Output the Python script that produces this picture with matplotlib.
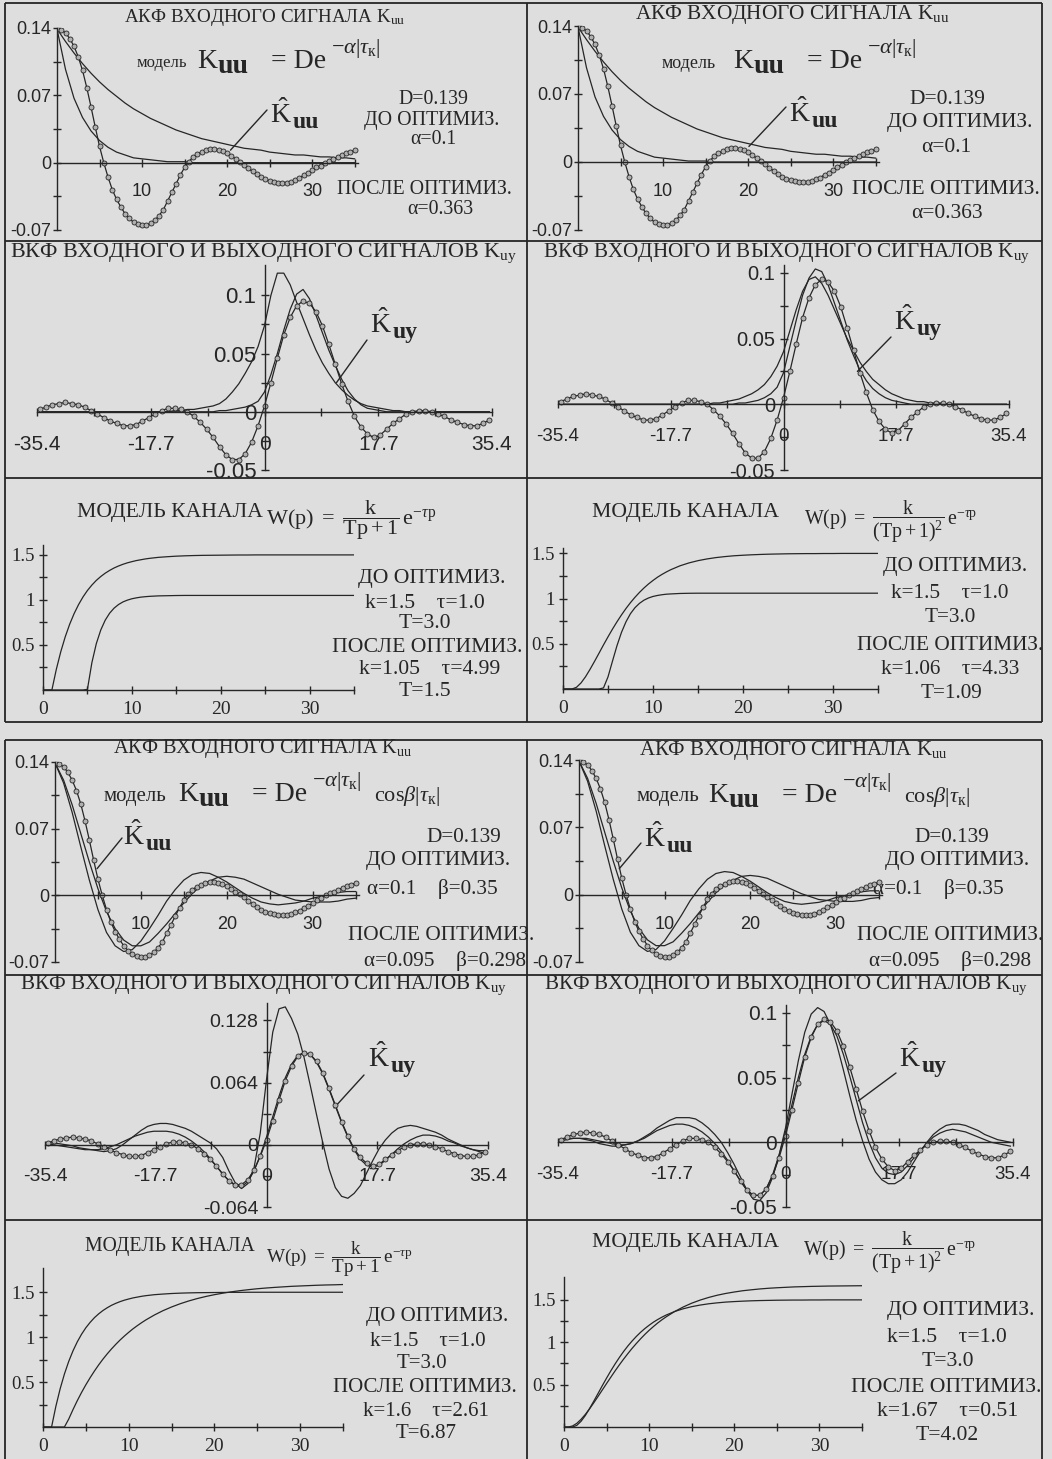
import numpy as np
import matplotlib
matplotlib.use("Agg")
import matplotlib.pyplot as plt
from matplotlib.patches import ConnectionPatch

W, H = 1052, 1459
BG = "#dedede"
INK = "#262626"
SERIF = ["Liberation Serif", "DejaVu Serif"]
SANS = ["Liberation Sans", "DejaVu Sans"]

plt.rcParams.update({
    "font.family": SERIF,
    "mathtext.fontset": "custom",
    "mathtext.rm": "Liberation Serif",
    "mathtext.it": "Liberation Serif:italic",
    "mathtext.bf": "Liberation Serif:bold",
    "mathtext.sf": "Liberation Sans",
    "axes.unicode_minus": False,
    "text.color": INK,
})

# ---------------- data ----------------
# lag grids
tau_acf_emp = np.arange(0, 35.01, 0.5)
tau_acf = np.arange(0, 36)
tau_ccf = np.arange(-35, 36)
t_step = np.concatenate([np.arange(0, 12.01, 0.5), np.arange(13, 36)])

# empirical ACF of the input signal (dotted curve)
acf_emp = [0.139, 0.138, 0.135, 0.129, 0.121, 0.110, 0.096, 0.078, 0.058, 0.037,
           0.017, 0.000, -0.015, -0.028, -0.038, -0.046, -0.053, -0.058, -0.062, -0.064,
           -0.065, -0.065, -0.063, -0.060, -0.055, -0.049, -0.040, -0.031, -0.022, -0.013,
           -0.005, 0.001, 0.006, 0.009, 0.011, 0.013, 0.014, 0.014, 0.013, 0.012,
           0.010, 0.007, 0.004, 0.001, -0.002, -0.006, -0.009, -0.012, -0.015, -0.017,
           -0.019, -0.020, -0.021, -0.021, -0.021, -0.020, -0.018, -0.016, -0.013, -0.011,
           -0.008, -0.005, -0.003, 0.000, 0.002, 0.004, 0.006, 0.008, 0.010, 0.011,
           0.013]
# exponential ACF model: before (alpha=0.1) / after (alpha=0.363)
acf_exp_before = [0.139, 0.126, 0.114, 0.103, 0.093, 0.084, 0.076, 0.069, 0.062, 0.056,
                  0.051, 0.046, 0.042, 0.038, 0.034, 0.031, 0.028, 0.025, 0.023, 0.021,
                  0.019, 0.017, 0.015, 0.014, 0.013, 0.011, 0.010, 0.009, 0.008, 0.008,
                  0.007, 0.006, 0.006, 0.005, 0.005, 0.004]
acf_exp_after = [0.139, 0.097, 0.067, 0.047, 0.033, 0.023, 0.016, 0.011, 0.008, 0.005,
                 0.004, 0.003, 0.002, 0.001, 0.001, 0.001, 0.000, 0.000, 0.000, 0.000,
                 0.000, 0.000, 0.000, 0.000, 0.000, 0.000, 0.000, 0.000, 0.000, 0.000,
                 0.000, 0.000, 0.000, 0.000, 0.000, 0.000]
# exp-cos ACF model: before (0.1, 0.35) / after (0.095, 0.298)
acf_cos_before = [0.139, 0.118, 0.087, 0.051, 0.016, -0.015, -0.039, -0.053, -0.059, -0.057,
                  -0.048, -0.035, -0.021, -0.006, 0.006, 0.016, 0.022, 0.024, 0.023, 0.019,
                  0.014, 0.008, 0.002, -0.003, -0.007, -0.009, -0.010, -0.009, -0.008, -0.006,
                  -0.003, -0.001, 0.001, 0.003, 0.004, 0.004]
acf_cos_after = [0.139, 0.121, 0.095, 0.065, 0.035, 0.007, -0.017, -0.035, -0.047, -0.053,
                 -0.053, -0.049, -0.040, -0.030, -0.019, -0.008, 0.002, 0.010, 0.015, 0.019,
                 0.020, 0.019, 0.017, 0.013, 0.009, 0.005, 0.001, -0.002, -0.005, -0.006,
                 -0.007, -0.007, -0.007, -0.006, -0.004, -0.003]

# empirical CCF of input and output (dotted curve)
ccf_emp = [0.002, 0.004, 0.006, 0.007, 0.008, 0.007, 0.006, 0.004, 0.001, -0.002,
           -0.005, -0.008, -0.010, -0.012, -0.012, -0.011, -0.008, -0.005, -0.002, 0.001,
           0.003, 0.003, 0.002, 0.000, -0.004, -0.009, -0.015, -0.022, -0.030, -0.037,
           -0.041, -0.041, -0.036, -0.026, -0.012,
           0.005, 0.025, 0.046, 0.066, 0.081, 0.091, 0.095, 0.093, 0.086, 0.074,
           0.058, 0.041, 0.024, 0.009, -0.004, -0.013, -0.019, -0.022, -0.020, -0.015,
           -0.010, -0.006, -0.002, 0.000, 0.001, 0.001, 0.000, -0.002, -0.004, -0.007,
           -0.009, -0.011, -0.012, -0.012, -0.010, -0.007]
# model CCF, first-order channel + exponential ACF (upper left)
ccf_exp1_a = [0, 0, 0, 0, 0, 0, 0, 0, 0, 0, 0, 0, 0, 0, 0, 0, 0, 0, 0, 0, 0,
              0.001, 0.001, 0.002, 0.002, 0.003, 0.004, 0.005, 0.007, 0.011, 0.017,
              0.024, 0.033, 0.043, 0.056,
              0.074, 0.100, 0.119, 0.119, 0.109, 0.094, 0.080, 0.066, 0.053, 0.042,
              0.033, 0.025, 0.019, 0.014, 0.010, 0.007, 0.005, 0.004, 0.003, 0.002,
              0.001, 0.001,
              0, 0, 0, 0, 0, 0, 0, 0, 0, 0, 0, 0, 0, 0]
ccf_exp1_b = [0, 0, 0, 0, 0, 0, 0, 0, 0, 0, 0, 0, 0, 0, 0, 0, 0, 0, 0, 0,
              0, 0, 0, 0, 0, 0, 0, 0,
              0.001, 0.001, 0.002, 0.003, 0.004, 0.006, 0.009,
              0.017, 0.032, 0.050, 0.070, 0.088, 0.101, 0.105, 0.097, 0.083, 0.068,
              0.053, 0.040, 0.028, 0.018, 0.011, 0.006, 0.003, 0.002, 0.001,
              0, 0, 0, 0, 0, 0, 0, 0, 0, 0, 0, 0, 0, 0, 0, 0, 0]
# model CCF, second-order channel + exponential ACF (upper right)
ccf_exp2_a = [0, 0, 0, 0, 0, 0, 0, 0, 0, 0, 0, 0, 0, 0, 0, 0, 0, 0, 0, 0,
              0, 0, 0, 0,
              0.001, 0.001, 0.002, 0.003, 0.004, 0.006, 0.008, 0.011, 0.015, 0.021, 0.029,
              0.040, 0.056, 0.072, 0.086, 0.095, 0.097, 0.092, 0.083, 0.072, 0.061,
              0.050, 0.041, 0.032, 0.025, 0.019, 0.015, 0.011, 0.008, 0.006, 0.004,
              0.003, 0.002, 0.002, 0.001, 0.001,
              0, 0, 0, 0, 0, 0, 0, 0, 0, 0, 0]
ccf_exp2_b = [0, 0, 0, 0, 0, 0, 0, 0, 0, 0, 0, 0, 0, 0, 0, 0, 0, 0, 0, 0,
              0, 0, 0, 0, 0, 0, 0, 0,
              0.001, 0.001, 0.002, 0.003, 0.005, 0.008, 0.013,
              0.024, 0.044, 0.064, 0.083, 0.096, 0.103, 0.101, 0.091, 0.077, 0.063,
              0.049, 0.037, 0.026, 0.018, 0.012, 0.008, 0.005, 0.003, 0.002, 0.001,
              0, 0, 0, 0, 0, 0, 0, 0, 0, 0, 0, 0, 0, 0, 0, 0]
# model CCF, first-order channel + exp-cos ACF (lower left)
ccf_cos1_a = [0.002, 0.002, 0.001, 0.000, -0.001, -0.003, -0.004, -0.005, -0.006, -0.007,
              -0.006, -0.004, 0.000, 0.005, 0.010, 0.015, 0.019, 0.021, 0.022, 0.022,
              0.021, 0.019, 0.017, 0.014, 0.010, 0.006, 0.002, -0.004, -0.013, -0.027,
              -0.039, -0.045, -0.040, -0.024, 0.012,
              0.067, 0.116, 0.140, 0.142, 0.130, 0.114, 0.090, 0.061, 0.031, 0.002,
              -0.025, -0.044, -0.053, -0.055, -0.050, -0.042, -0.029, -0.016, -0.004, 0.005,
              0.012, 0.017, 0.019, 0.020, 0.019, 0.017, 0.015, 0.013, 0.010, 0.006,
              0.003, 0.000, -0.003, -0.005, -0.007, -0.009]
ccf_cos1_b = [0.001, 0.000, -0.001, -0.002, -0.003, -0.004, -0.005, -0.005, -0.005, -0.004,
              -0.002, 0.000, 0.003, 0.006, 0.009, 0.011, 0.013, 0.014, 0.014, 0.014,
              0.013, 0.011, 0.008, 0.004, -0.001, -0.007, -0.014, -0.022, -0.030, -0.037,
              -0.042, -0.043, -0.038, -0.027, -0.011,
              0.008, 0.029, 0.050, 0.069, 0.083, 0.092, 0.095, 0.093, 0.085, 0.073,
              0.057, 0.040, 0.023, 0.008, -0.005, -0.015, -0.021, -0.023, -0.021, -0.016,
              -0.010, -0.004, 0.001, 0.005, 0.008, 0.010, 0.010, 0.009, 0.007, 0.004,
              0.002, -0.001, -0.003, -0.005, -0.006, -0.006]
# model CCF, second-order channel + exp-cos ACF (lower right)
ccf_cos2_a = [0.001, 0.002, 0.003, 0.003, 0.003, 0.002, 0.001, 0.000, -0.001, -0.002,
              -0.002, -0.001, 0.001, 0.004, 0.007, 0.011, 0.014, 0.017, 0.019, 0.019,
              0.019, 0.018, 0.015, 0.011, 0.006, 0.000, -0.008, -0.017, -0.027, -0.037,
              -0.044, -0.045, -0.039, -0.027, -0.010,
              0.011, 0.037, 0.063, 0.085, 0.099, 0.104, 0.101, 0.091, 0.075, 0.056,
              0.036, 0.017, 0.001, -0.013, -0.023, -0.029, -0.032, -0.032, -0.029, -0.023,
              -0.015, -0.007, 0.000, 0.006, 0.010, 0.013, 0.014, 0.014, 0.013, 0.011,
              0.009, 0.006, 0.004, 0.002, 0.001, 0.000]
ccf_cos2_b = [0.002, 0.003, 0.003, 0.003, 0.002, 0.001, -0.001, -0.002, -0.003, -0.003,
              -0.002, -0.001, 0.001, 0.003, 0.006, 0.009, 0.011, 0.013, 0.014, 0.014,
              0.013, 0.011, 0.008, 0.004, -0.001, -0.007, -0.014, -0.022, -0.030, -0.037,
              -0.041, -0.041, -0.036, -0.025, -0.010,
              0.008, 0.029, 0.050, 0.068, 0.082, 0.091, 0.094, 0.091, 0.082, 0.068,
              0.051, 0.033, 0.015, 0.000, -0.012, -0.020, -0.024, -0.025, -0.023, -0.018,
              -0.012, -0.006, -0.001, 0.004, 0.007, 0.009, 0.010, 0.009, 0.008, 0.006,
              0.004, 0.002, 0.000, -0.001, -0.002, -0.003]

# channel step responses (t = 0..12 step 0.5, then 13..35)
step1_before = [0, 0, 0, 0.230, 0.425, 0.590, 0.730, 0.848, 0.948, 1.033,
                1.105, 1.165, 1.217, 1.260, 1.297, 1.328, 1.355, 1.377, 1.396, 1.412,
                1.425, 1.437, 1.446, 1.455, 1.462,
                1.473, 1.480, 1.486, 1.490, 1.493, 1.495, 1.496, 1.497, 1.498, 1.499,
                1.499, 1.5, 1.5, 1.5, 1.5, 1.5, 1.5, 1.5, 1.5, 1.5,
                1.5, 1.5, 1.5]
step1_after_top = [0, 0, 0, 0, 0, 0, 0, 0, 0, 0,
                   0.007, 0.303, 0.515, 0.666, 0.775, 0.853, 0.909, 0.949, 0.978, 0.998,
                   1.013, 1.023, 1.031, 1.036, 1.040,
                   1.045, 1.047, 1.049, 1.05, 1.05, 1.05, 1.05, 1.05, 1.05, 1.05,
                   1.05, 1.05, 1.05, 1.05, 1.05, 1.05, 1.05, 1.05, 1.05, 1.05,
                   1.05, 1.05, 1.05]
step2_before = [0, 0, 0, 0.019, 0.067, 0.135, 0.217, 0.305, 0.396, 0.488,
                0.577, 0.663, 0.744, 0.820, 0.891, 0.956, 1.015, 1.069, 1.118, 1.162,
                1.201, 1.237, 1.268, 1.296, 1.321,
                1.363, 1.395, 1.420, 1.439, 1.454, 1.465, 1.474, 1.480, 1.485, 1.489,
                1.492, 1.494, 1.496, 1.497, 1.498, 1.498, 1.499, 1.499, 1.5, 1.5,
                1.5, 1.5, 1.5]
step2_after_top = [0, 0, 0, 0, 0, 0, 0, 0, 0, 0.012,
                   0.134, 0.309, 0.480, 0.627, 0.744, 0.834, 0.900, 0.948, 0.983, 1.007,
                   1.024, 1.035, 1.043, 1.049, 1.052,
                   1.057, 1.059, 1.06, 1.06, 1.06, 1.06, 1.06, 1.06, 1.06, 1.06,
                   1.06, 1.06, 1.06, 1.06, 1.06, 1.06, 1.06, 1.06, 1.06, 1.06,
                   1.06, 1.06, 1.06]
step1_after_bot = [0, 0, 0, 0, 0, 0, 0.088, 0.194, 0.293, 0.385,
                   0.470, 0.549, 0.623, 0.692, 0.756, 0.815, 0.870, 0.921, 0.969, 1.013,
                   1.054, 1.093, 1.128, 1.161, 1.192,
                   1.247, 1.295, 1.336, 1.372, 1.403, 1.430, 1.453, 1.473, 1.490, 1.505,
                   1.518, 1.529, 1.539, 1.547, 1.554, 1.560, 1.566, 1.570, 1.574, 1.578,
                   1.581, 1.583, 1.586]
step2_after_bot = [0, 0, 0.012, 0.043, 0.090, 0.148, 0.214, 0.286, 0.361, 0.437,
                   0.513, 0.588, 0.662, 0.733, 0.801, 0.866, 0.928, 0.986, 1.041, 1.093,
                   1.141, 1.185, 1.227, 1.265, 1.300,
                   1.363, 1.416, 1.461, 1.498, 1.529, 1.555, 1.576, 1.593, 1.608, 1.619,
                   1.629, 1.637, 1.643, 1.648, 1.653, 1.656, 1.659, 1.661, 1.663, 1.664,
                   1.665, 1.666, 1.667]

acf_xt = [5, 10, 15, 20, 25, 30, 35]
acf_xl = ["", "10", "", "20", "", "30", ""]
acf_yt = [-0.07, 0, 0.07, 0.14]
acf_yl = ["-0.07", "0", "0.07", "0.14"]
ccf_xt = [-35.4, -26.55, -17.7, -8.85, 0, 8.85, 17.7, 26.55, 35.4]
ccf_xl = ["-35.4", "", "-17.7", "", "0", "", "17.7", "", "35.4"]
ccf_yt = [-0.05, 0, 0.05, 0.1]
ccf_yl = ["-0.05", "0", "0.05", "0.1"]
ccf_yt2 = [-0.064, 0, 0.064, 0.128]
ccf_yl2 = ["-0.064", "0", "0.064", "0.128"]
st_xt = [0, 5, 10, 15, 20, 25, 30, 35]
st_xl = ["0", "", "10", "", "20", "", "30", ""]
st_yt = [0.5, 1.0, 1.5]
st_yl = ["0.5", "1", "1.5"]

# ---------------- figure ----------------
fig = plt.figure(figsize=(W / 100, H / 100), dpi=100, facecolor=BG)
bg = fig.add_axes([0, 0, 1, 1], zorder=0)
bg.set_xlim(0, W)
bg.set_ylim(H, 0)
bg.axis("off")


def seg(x0, y0, x1, y1):
    bg.plot([x0, x1], [y0, y1], color=INK, lw=1.3, solid_capstyle="butt")


for yy in (3, 241, 478, 722):
    seg(5, yy, 1042, yy)
for xx in (5, 527, 1042):
    seg(xx, 3, xx, 722)
for yy in (740, 975, 1220):
    seg(5, yy, 1042, yy)
for xx in (5, 527, 1042):
    seg(xx, 740, xx, 1459)


def txt(x, y, s, size, ha="center", va="center", family=None, weight="normal"):
    bg.text(x, y, s, fontsize=size, ha=ha, va=va, color=INK,
            family=family if family else SERIF, fontweight=weight)


def make_axes(box, xlim, ylim, yspine=0.0):
    xl, xr, yt, yb = box
    ax = fig.add_axes([xl / W, 1 - yb / H, (xr - xl) / W, (yb - yt) / H], zorder=2)
    ax.set_xlim(*xlim)
    ax.set_ylim(*ylim)
    ax.patch.set_visible(False)
    ax.spines["top"].set_visible(False)
    ax.spines["right"].set_visible(False)
    ax.spines["left"].set_position(("data", yspine))
    ax.spines["bottom"].set_position(("data", 0))
    for sp in ("left", "bottom"):
        ax.spines[sp].set_color(INK)
        ax.spines[sp].set_linewidth(1.0)
    return ax


def ticks(ax, xt, xl, yt, yl, yminor, fam, fsx, fsy, xpad, ypad):
    ax.set_xticks(xt)
    ax.set_xticklabels(xl, fontfamily=fam, fontsize=fsx)
    ax.set_yticks(yt)
    ax.set_yticklabels(yl, fontfamily=fam, fontsize=fsy)
    ax.set_yticks(yminor, minor=True)
    ax.tick_params(which="both", direction="inout", length=6, width=1.0,
                   color=INK, labelcolor=INK)
    ax.tick_params(axis="x", pad=xpad)
    ax.tick_params(axis="y", pad=ypad)


def line(ax, x, y):
    ax.plot(x, y, color=INK, lw=0.9)


def dotted(ax, x, y, ms=3.6):
    ax.plot(x, y, color=INK, lw=0.9, marker="o", ms=ms, mfc="#b0b0b0",
            mec=INK, mew=0.6)


def leader(ax, data_xy, px_xy):
    con = ConnectionPatch(xyA=px_xy, coordsA=bg.transData, xyB=data_xy,
                          coordsB=ax.transData, color=INK, lw=1.0)
    fig.add_artist(con)


def model_formula(x0, yb, cos=False):
    """K_uu = De^{-a|t|} [cos b|t|] composed from pieces (left edge x0, baseline yb)."""
    txt(x0, yb, "K", 20, ha="left", va="baseline")
    txt(x0 + 21, yb + 5, "uu", 20, ha="left", va="baseline", weight="bold")
    txt(x0 + 74, yb, "= De", 20, ha="left", va="baseline")
    txt(x0 + 134, yb - 15, r"$-\alpha|\tau_{\mathrm{к}}|$", 16, ha="left", va="baseline")
    if cos:
        txt(x0 + 196, yb, r"$\mathrm{cos}\beta|\tau_{\mathrm{к}}|$", 16,
            ha="left", va="baseline")


def hat_label(x0, yb, sub):
    txt(x0, yb, r"$\hat{\mathrm{K}}$", 20, ha="left", va="baseline")
    txt(x0 + 23, yb + 5, sub, 17, ha="left", va="baseline", weight="bold")


F_W1 = r"$\mathrm{W(p)}\ =\ \dfrac{\mathrm{k}}{\mathrm{Tp+1}}\,\mathrm{e}^{-\tau\mathrm{p}}$"
F_W2 = (r"$\mathrm{W(p)}\ =\ \dfrac{\mathrm{k}}{\mathrm{(Tp+1)}^{2}}"
        r"\,\mathrm{e}^{-\tau\mathrm{p}}$")
T_ACF = "АКФ ВХОДНОГО СИГНАЛА K$_{\\mathrm{uu}}$"
T_CCF = "ВКФ ВХОДНОГО И ВЫХОДНОГО СИГНАЛОВ K$_{\\mathrm{uy}}$"
T_CH = "МОДЕЛЬ КАНАЛА"


def acf_panel(box, m_before, m_after):
    ax = make_axes(box, (0, 35.4), (-0.07, 0.14))
    ticks(ax, acf_xt, acf_xl, acf_yt, acf_yl, [-0.035, 0.035, 0.105],
          SANS, 13, 13, 12, 1)
    line(ax, tau_acf, m_before)
    line(ax, tau_acf, m_after)
    dotted(ax, tau_acf_emp, acf_emp)
    return ax


def ccf_panel(box, ylim, yt, yl, yminor, ma, mb, fsx=14, fsy=15):
    ax = make_axes(box, (-35.4, 35.4), ylim)
    ticks(ax, ccf_xt, ccf_xl, yt, yl, yminor, SANS, fsx, fsy, 14, 3)
    line(ax, tau_ccf, ma)
    line(ax, tau_ccf, mb)
    dotted(ax, tau_ccf, ccf_emp, ms=3.6)
    return ax


def step_panel(box, ylim, c1, c2):
    ax = make_axes(box, (0, 35), ylim)
    ticks(ax, st_xt, st_xl, st_yt, st_yl, [0.25, 0.75, 1.25], SERIF, 14, 13.5, 5, 3)
    line(ax, t_step, c1)
    line(ax, t_step, c2)
    return ax


def notes(items, size):
    for s, x, y in items:
        txt(x, y, s, size)


# ---- row 1: exponential ACF ----
a1 = acf_panel((57, 358, 28, 230), acf_exp_before, acf_exp_after)
txt(265, 17, T_ACF, 13.7)
txt(162, 63, "модель", 12)
model_formula(197, 68)
hat_label(270, 123, "uu")
leader(a1, (20.4, 0.013), (267, 110))
notes((("D=0.139", 433, 100), ("ДО ОПТИМИЗ.", 432, 120), ("α=0.1", 433, 140),
       ("ПОСЛЕ ОПТИМИЗ.", 424, 190), ("α=0.363", 440, 210)), 14.3)

a2 = acf_panel((578, 879, 26, 230), acf_exp_before, acf_exp_after)
txt(792, 15, T_ACF, 15.3)
txt(689, 63, "модель", 13)
model_formula(733, 68)
hat_label(789, 122, "uu")
leader(a2, (20.1, 0.016), (786, 107))
notes((("D=0.139", 947, 100), ("ДО ОПТИМИЗ.", 960, 122), ("α=0.1", 946, 148),
       ("ПОСЛЕ ОПТИМИЗ.", 946, 190), ("α=0.363", 947, 213)), 15.5)

# ---- row 2: CCF (exponential ACF) ----
a3 = ccf_panel((37, 492, 265, 470), (-0.05, 0.126), ccf_yt, ccf_yl,
               [-0.025, 0.025, 0.075], ccf_exp1_a, ccf_exp1_b, 15, 16)
txt(263, 253, T_CCF, 15.8)
hat_label(370, 333, "uy")
leader(a3, (11.2, 0.025), (367, 340))

a4 = ccf_panel((558, 1009, 265, 470), (-0.05, 0.106), ccf_yt, ccf_yl,
               [-0.025, 0.025, 0.075], ccf_exp2_a, ccf_exp2_b, 13.5, 14.5)
txt(786, 253, T_CCF, 15.2)
hat_label(894, 330, "uy")
leader(a4, (11.6, 0.025), (891, 337))

# ---- row 3: channel step responses ----
a5 = step_panel((43, 354, 545, 690), (0, 1.61), step1_before, step1_after_top)
txt(170, 513, T_CH, 15.6)
txt(266, 520, F_W1, 16, ha="left")
notes((("ДО ОПТИМИЗ.", 432, 578), ("k=1.5    τ=1.0", 425, 603),
       ("T=3.0", 425, 623), ("ПОСЛЕ ОПТИМИЗ.", 427, 648),
       ("k=1.05    τ=4.99", 430, 670), ("T=1.5", 425, 691)), 15.6)

a6 = step_panel((563, 878, 548, 689), (0, 1.56), step2_before, step2_after_top)
txt(686, 513, T_CH, 15.7)
txt(804, 522, F_W2, 14.3, ha="left")
notes((("ДО ОПТИМИЗ.", 955, 567), ("k=1.5    τ=1.0", 950, 593),
       ("T=3.0", 950, 618), ("ПОСЛЕ ОПТИМИЗ.", 950, 645),
       ("k=1.06    τ=4.33", 950, 670), ("T=1.09", 951, 693)), 15.3)

# ---- row 4: exp-cos ACF ----
a7 = acf_panel((55, 359, 762, 962), acf_cos_before, acf_cos_after)
txt(263, 748, T_ACF, 14.6)
txt(135, 797, "модель", 15)
model_formula(178, 801, cos=True)
hat_label(123, 845, "uu")
leader(a7, (4.9, 0.028), (122, 838))
notes((("D=0.139", 464, 837), ("ДО ОПТИМИЗ.", 438, 860),
       ("α=0.1    β=0.35", 432, 889), ("ПОСЛЕ ОПТИМИЗ.", 441, 936),
       ("α=0.095    β=0.298", 445, 961)), 15.3)

a8 = acf_panel((579, 882, 760, 962), acf_cos_before, acf_cos_after)
txt(793, 750, T_ACF, 15)
txt(668, 797, "модель", 15)
model_formula(708, 802, cos=True)
hat_label(644, 847, "uu")
leader(a8, (4.7, 0.027), (641, 843))
notes((("D=0.139", 952, 837), ("ДО ОПТИМИЗ.", 957, 860),
       ("α=0.1    β=0.35", 938, 889), ("ПОСЛЕ ОПТИМИЗ.", 950, 936),
       ("α=0.095    β=0.298", 950, 961)), 15.3)

# ---- row 5: CCF (exp-cos ACF) ----
a9 = ccf_panel((45, 488, 1003, 1207), (-0.064, 0.146), ccf_yt2, ccf_yl2,
               [-0.032, 0.032, 0.096], ccf_cos1_a, ccf_cos1_b, 14, 14)
txt(263, 985, T_CCF, 15.2)
hat_label(368, 1067, "uy")
leader(a9, (10.8, 0.038), (364, 1075))

a10 = ccf_panel((558, 1013, 1005, 1207), (-0.05, 0.106), ccf_yt, ccf_yl,
                [-0.025, 0.025, 0.075], ccf_cos2_a, ccf_cos2_b, 13.5, 15)
txt(786, 985, T_CCF, 15.1)
hat_label(899, 1067, "uy")
leader(a10, (11.35, 0.032), (896, 1073))

# ---- row 6: channel step responses ----
a11 = step_panel((43, 343, 1268, 1427), (0, 1.77), step1_before, step1_after_bot)
txt(170, 1247, T_CH, 14.2)
txt(266, 1259, F_W1, 13.8, ha="left")
notes((("ДО ОПТИМИЗ.", 437, 1317), ("k=1.5    τ=1.0", 428, 1342),
       ("T=3.0", 422, 1363), ("ПОСЛЕ ОПТИМИЗ.", 425, 1387),
       ("k=1.6    τ=2.61", 426, 1412), ("T=6.87", 426, 1433)), 15)

a12 = step_panel((564, 862, 1277, 1427), (0, 1.77), step2_before, step2_after_bot)
txt(686, 1243, T_CH, 15.7)
txt(803, 1253, F_W2, 14.3, ha="left")
notes((("ДО ОПТИМИЗ.", 961, 1310), ("k=1.5    τ=1.0", 947, 1338),
       ("T=3.0", 948, 1362), ("ПОСЛЕ ОПТИМИЗ.", 946, 1387),
       ("k=1.67    τ=0.51", 948, 1412), ("T=4.02", 947, 1435)), 15.6)

fig.savefig("out.png", dpi=100, facecolor=BG)
